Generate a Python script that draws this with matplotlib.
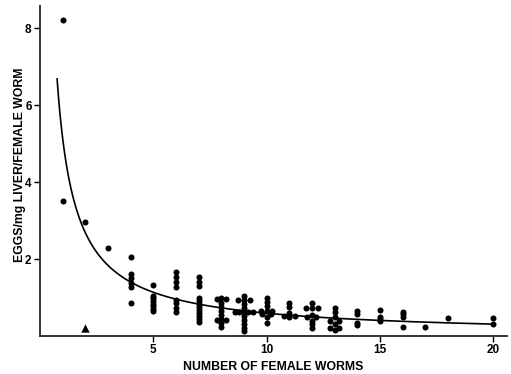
import numpy as np
import matplotlib.pyplot as plt

plt.rcParams['font.family'] = ['Liberation Sans', 'DejaVu Sans']

# Número de gusanos hembra (x) y huevos/mg hígado/gusano hembra (y)
worms_x = [1, 1, 2, 3,
           4, 4, 4, 4, 4, 4,
           5, 5, 5, 5, 5, 5, 5, 5,
           6, 6, 6, 6, 6, 6, 6, 6,
           7, 7, 7, 7, 7, 7, 7, 7, 7, 7, 7, 7,
           7.8, 8, 8.2, 8, 8, 8, 8, 7.8, 8.2, 8, 8, 8,
           9, 8.75, 9, 9.25, 9, 9, 8.6, 8.8, 9, 9.2, 9.4, 9, 9, 9, 9, 9,
           10, 10, 10, 9.75, 10, 10.25, 9.8, 10.2, 10, 10,
           11, 11, 10.75, 11, 11.25, 11,
           12, 11.75, 12, 12.25, 12, 11.8, 12.2, 12, 12, 12,
           13, 13, 13, 12.8, 13.2, 13, 12.8, 13.2, 13,
           14, 14, 14, 14,
           15, 15, 15, 15,
           16, 16, 16, 16,
           17, 18, 20, 20]
eggs_y = [8.2, 3.5, 2.96, 2.29,
          2.04, 1.61, 1.5, 1.37, 1.28, 0.85,
          1.32, 1.05, 0.98, 0.91, 0.84, 0.77, 0.7, 0.64,
          1.67, 1.54, 1.41, 1.28, 0.94, 0.86, 0.73, 0.63,
          1.52, 1.41, 1.3, 0.98, 0.9, 0.82, 0.75, 0.68, 0.6, 0.52, 0.45, 0.37,
          0.95, 0.98, 0.95, 0.85, 0.75, 0.65, 0.55, 0.42, 0.42, 0.45, 0.35, 0.24,
          1.05, 0.93, 0.93, 0.93, 0.82, 0.72, 0.63, 0.63, 0.63, 0.63, 0.63, 0.52, 0.42, 0.32, 0.22, 0.14,
          0.98, 0.88, 0.78, 0.65, 0.65, 0.65, 0.58, 0.58, 0.5, 0.34,
          0.86, 0.75, 0.52, 0.5, 0.52, 0.6,
          0.85, 0.72, 0.72, 0.72, 0.55, 0.5, 0.5, 0.38, 0.3, 0.2,
          0.73, 0.62, 0.5, 0.4, 0.4, 0.3, 0.2, 0.2, 0.15,
          0.65, 0.57, 0.35, 0.28,
          0.68, 0.5, 0.43, 0.38,
          0.63, 0.56, 0.5, 0.24,
          0.24, 0.46, 0.46, 0.3]

# Punto aparte (triángulo)
tri_x = [2]
tri_y = [0.22]

# Curva ajustada y = a * x^-b
a_fit, b_fit = 5.16, 0.94
curve_x = np.linspace(0.76, 20, 300)
curve_y = a_fit * curve_x ** (-b_fit)

fig = plt.figure(figsize=(5.11, 3.74), dpi=100)
ax = fig.add_axes([0.078, 0.1016, 0.914, 0.882])

ax.plot(curve_x, curve_y, color='black', lw=1.2)
ax.scatter(worms_x, eggs_y, s=19, color='black', lw=0, zorder=3)
ax.scatter(tri_x, tri_y, s=36, marker='^', color='black', lw=0, zorder=3)

ax.set_xlim(0, 20.6)
ax.set_ylim(0, 8.57)
ax.set_xticks([5, 10, 15, 20])
ax.set_yticks([2, 4, 6, 8])

for s in ['top', 'right']:
    ax.spines[s].set_visible(False)
for s in ['left', 'bottom']:
    ax.spines[s].set_linewidth(1.4)
    ax.spines[s].set_color('#333333')

ax.tick_params(axis='both', direction='out', length=4, width=1, pad=2,
               labelsize=8.5)
for lab in ax.get_xticklabels() + ax.get_yticklabels():
    lab.set_fontweight('bold')

ax.set_xlabel('NUMBER OF FEMALE WORMS', fontsize=8.8, fontweight='bold', labelpad=3)
ax.set_ylabel('EGGS/mg LIVER/FEMALE WORM', fontsize=8.8, fontweight='bold')
ax.yaxis.set_label_coords(-0.03, 0.52)

fig.savefig('out.png', dpi=100)
